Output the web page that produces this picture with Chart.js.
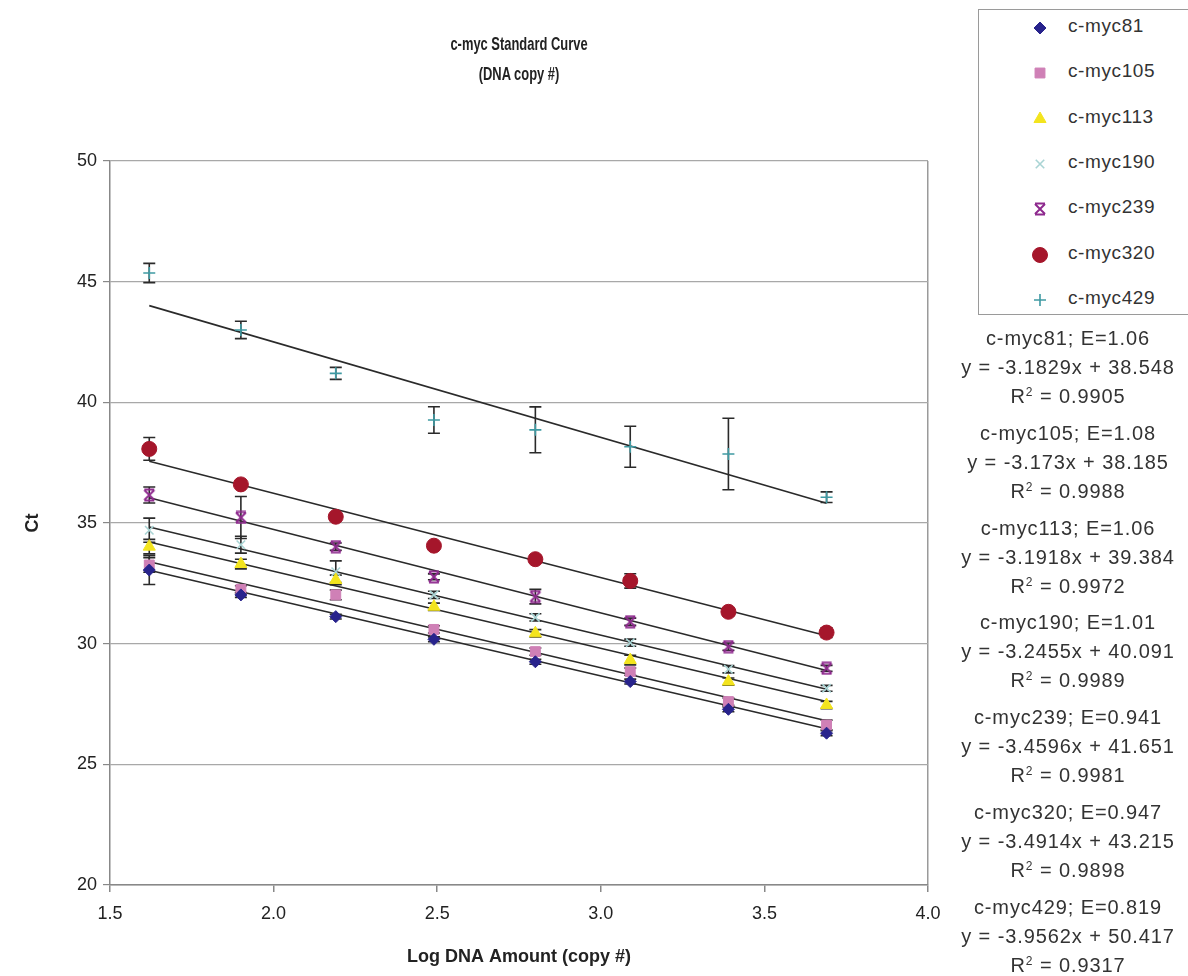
<!DOCTYPE html>
<html>
<head>
<meta charset="utf-8">
<script src="https://cdn.jsdelivr.net/npm/chart.js@4"></script>
<style>
body { margin: 0; background: #fff; }
#wrap { position: relative; width: 1188px; height: 976px; overflow: hidden; }
#chart { position: absolute; left: 0; top: 0; }
.title { position: absolute; left: 319px; width: 400px; text-align: center; line-height: 24px; font: bold 19px "Liberation Sans", Arial, sans-serif; color: #222; transform: scaleX(0.68); white-space: nowrap; }
#legend { position: absolute; left: 978px; top: 9px; width: 212px; height: 306px; border: 1.5px solid #9a9a9a; box-sizing: border-box; background: #fff; }
.leg-row { position: absolute; left: 0; width: 210px; height: 26px; }
.leg-row canvas { position: absolute; left: 48px; top: 0; }
.leg-row span { position: absolute; left: 89px; top: 0; line-height: 26px; font: 19px "Liberation Sans", Arial, sans-serif; letter-spacing: 0.6px; color: #333; white-space: nowrap; }
.eq { position: absolute; left: 928px; width: 280px; text-align: center; line-height: 22px; font: 20px "Liberation Sans", Arial, sans-serif; letter-spacing: 0.9px; color: #333; white-space: nowrap; }
.eq sup { font-size: 12px; vertical-align: 7px; line-height: 0; }
</style>
</head>
<body>
<div id="wrap">
<canvas id="chart" width="1188" height="976"></canvas>
<div class="title" style="top:33px">c-myc Standard Curve</div>
<div class="title" style="top:63px">(DNA copy #)</div>
<div id="legend"></div>
<div id="equations"></div>
</div>
<script>
// x positions (log DNA amount) shared by all series
var logAmount = [1.62, 1.90, 2.19, 2.49, 2.80, 3.09, 3.39, 3.69];

var names = ['c-myc81', 'c-myc105', 'c-myc113', 'c-myc190', 'c-myc239', 'c-myc320', 'c-myc429'];

// mean Ct per series
var ct81  = [33.05, 32.02, 31.12, 30.18, 29.25, 28.43, 27.28, 26.29];
var ct105 = [33.26, 32.25, 32.02, 30.59, 29.67, 28.84, 27.60, 26.63];
var ct113 = [34.02, 33.30, 32.64, 31.53, 30.43, 29.32, 28.43, 27.46];
var ct190 = [34.70, 34.10, 32.98, 32.02, 31.09, 30.04, 28.94, 28.15];
var ct239 = [36.16, 35.23, 34.02, 32.77, 31.95, 30.91, 29.88, 28.98];
var ct320 = [38.07, 36.60, 35.26, 34.06, 33.50, 32.60, 31.32, 30.46];
var ct429 = [45.36, 43.00, 41.20, 39.27, 38.86, 38.16, 37.86, 36.07];

// error bar half-lengths
var err81  = [0.60, 0.10, 0.10, 0.10, 0.10, 0.10, 0.10, 0.10];
var err105 = [0.30, 0.15, 0.20, 0.15, 0.15, 0.15, 0.15, 0.20];
var err113 = [0.30, 0.20, 0.20, 0.15, 0.15, 0.20, 0.15, 0.15];
var err190 = [0.50, 0.35, 0.45, 0.15, 0.15, 0.15, 0.15, 0.12];
var err239 = [0.33, 0.87, 0.15, 0.12, 0.30, 0.15, 0.15, 0.12];
var err320 = [0.47, 0.10, 0.12, 0.12, 0.15, 0.30, 0.15, 0.20];
var err429 = [0.40, 0.36, 0.25, 0.55, 0.95, 0.85, 1.48, 0.22];

// trendline fits as printed on the chart
var slopes     = [-3.1829, -3.173, -3.1918, -3.2455, -3.4596, -3.4914, -3.9562];
var intercepts = [38.548, 38.185, 39.384, 40.091, 41.651, 43.215, 50.417];
var efficiency = ['1.06', '1.08', '1.06', '1.01', '0.941', '0.947', '0.819'];
var rSquared   = ['0.9905', '0.9988', '0.9972', '0.9989', '0.9981', '0.9898', '0.9317'];

var xTicks = [1.5, 2.0, 2.5, 3.0, 3.5, 4.0];
var yTicks = [20, 25, 30, 35, 40, 45, 50];

var ctSeries = [ct81, ct105, ct113, ct190, ct239, ct320, ct429];
var errSeries = [err81, err105, err113, err190, err239, err320, err429];

//custom marker: x with horizontal bars (Excel "star")
function makeBarX(color) {
	var c = document.createElement('canvas');
	c.width = 14; c.height = 14;
	var g = c.getContext('2d');
	g.strokeStyle = color;
	g.lineWidth = 2;
	g.beginPath();
	g.moveTo(2, 2); g.lineTo(12, 12);
	g.moveTo(12, 2); g.lineTo(2, 12);
	g.moveTo(2, 1.5); g.lineTo(12, 1.5);
	g.moveTo(2, 12.5); g.lineTo(12, 12.5);
	g.stroke();
	return c;
}

var markers = [
	{ style: 'rectRot', color: '#28238c', radius: 6, border: 1 },
	{ style: 'rect', color: '#cf80b6', radius: 7, border: 1 },
	{ style: 'triangle', color: '#f3e41e', radius: 7, border: 1 },
	{ style: 'crossRot', color: '#a9d4d4', radius: 6, border: 1.6 },
	{ style: makeBarX('#8e2a8e'), color: '#8e2a8e', radius: 7, border: 1 },
	{ style: 'circle', color: '#a5162b', radius: 7.5, border: 1 },
	{ style: 'cross', color: '#3f9aa3', radius: 6, border: 1.6 }
];

var datasets = [];
for (var s = 0; s < names.length; s++) {
	var pts = [];
	for (var i = 0; i < logAmount.length; i++) {
		pts.push({ x: logAmount[i], y: ctSeries[s][i] });
	}
	datasets.push({
		type: 'scatter',
		label: names[s],
		data: pts,
		errors: errSeries[s],
		pointStyle: markers[s].style,
		pointRadius: markers[s].radius,
		pointHoverRadius: markers[s].radius,
		backgroundColor: markers[s].color,
		borderColor: markers[s].color,
		borderWidth: markers[s].border,
		order: 1
	});
}
//trend lines over the data range
var xMin = logAmount[0], xMax = logAmount[logAmount.length - 1];
for (s = 0; s < names.length; s++) {
	datasets.push({
		type: 'line',
		label: names[s] + ' fit',
		data: [
			{ x: xMin, y: slopes[s] * xMin + intercepts[s] },
			{ x: xMax, y: slopes[s] * xMax + intercepts[s] }
		],
		borderColor: '#2a2a2a',
		borderWidth: 1.6,
		pointRadius: 0,
		fill: false,
		order: 2
	});
}

var errorBarPlugin = {
	id: 'errorBars',
	beforeDatasetsDraw: function(chart) {
		var ctx = chart.ctx, xs = chart.scales.x, ys = chart.scales.y;
		ctx.save();
		ctx.strokeStyle = '#2a2a2a';
		ctx.lineWidth = 1.6;
		chart.data.datasets.forEach(function(ds) {
			if (!ds.errors) {
				return;
			}
			ds.data.forEach(function(p, i) {
				var e = ds.errors[i];
				var px = xs.getPixelForValue(p.x);
				var top = ys.getPixelForValue(p.y + e);
				var bot = ys.getPixelForValue(p.y - e);
				ctx.beginPath();
				ctx.moveTo(px, top); ctx.lineTo(px, bot);
				ctx.moveTo(px - 6, top); ctx.lineTo(px + 6, top);
				ctx.moveTo(px - 6, bot); ctx.lineTo(px + 6, bot);
				ctx.stroke();
			});
		});
		ctx.restore();
	}
};

var sans = '"Liberation Sans", Arial, sans-serif';

var chart = new Chart(document.getElementById('chart'), {
	data: { datasets: datasets },
	plugins: [errorBarPlugin],
	options: {
		responsive: false,
		animation: false,
		layout: { padding: { left: 0, right: 260, top: 161, bottom: 0 } },
		plugins: {
			legend: { display: false },
			tooltip: { enabled: false },
			title: { display: false }
		},
		scales: {
			x: {
				type: 'linear',
				min: 1.5,
				max: 4.0,
				afterBuildTicks: function(axis) {
					axis.ticks = xTicks.map(function(v) { return { value: v }; });
				},
				afterFit: function(axis) { axis.height = 91; },
				ticks: {
					color: '#222',
					font: { family: sans, size: 18 },
					padding: 11,
					maxRotation: 0,
					callback: function(v) { return v.toFixed(1); }
				},
				grid: {
					color: function(c) { return (c.tick && c.tick.value === 4) ? '#9a9a9a' : 'rgba(0,0,0,0)'; },
					tickColor: '#888',
					tickLength: 7,
					lineWidth: 1.5
				},
				border: { display: true, color: '#888', width: 1.5 },
				title: {
					display: true,
					text: 'Log DNA Amount (copy #)',
					color: '#222',
					font: { family: sans, size: 18, weight: 'bold' },
					padding: { top: 0, bottom: 8 }
				}
			},
			y: {
				type: 'linear',
				min: 20,
				max: 50,
				afterBuildTicks: function(axis) {
					axis.ticks = yTicks.map(function(v) { return { value: v }; });
				},
				afterFit: function(axis) { axis.width = 110; },
				ticks: {
					color: '#222',
					font: { family: sans, size: 18 },
					padding: 6
				},
				grid: {
					color: '#a8a8a8',
					tickColor: '#888',
					tickLength: 7,
					lineWidth: 1.2
				},
				border: { display: true, color: '#888', width: 1.5 },
				title: {
					display: true,
					text: 'Ct',
					color: '#222',
					font: { family: sans, size: 18, weight: 'bold' },
					padding: { top: 22, bottom: 0 }
				}
			}
		}
	}
});

//legend box
function drawMarker(canvas, m) {
	var g = canvas.getContext('2d');
	var cx = canvas.width / 2, cy = canvas.height / 2;
	if (typeof m.style !== 'string') {
		g.drawImage(m.style, cx - m.style.width / 2, cy - m.style.height / 2);
		return;
	}
	g.fillStyle = m.color;
	g.strokeStyle = m.color;
	g.lineWidth = m.border;
	Chart.helpers.drawPoint(g, { pointStyle: m.style, radius: m.radius, borderWidth: m.border, rotation: 0 }, cx, cy);
}

var legend = document.getElementById('legend');
for (s = 0; s < names.length; s++) {
	var row = document.createElement('div');
	row.className = 'leg-row';
	row.style.top = (5 + 45.3 * s) + 'px';
	var cv = document.createElement('canvas');
	cv.width = 26; cv.height = 26;
	row.appendChild(cv);
	var label = document.createElement('span');
	label.textContent = names[s];
	row.appendChild(label);
	legend.appendChild(row);
	drawMarker(cv, markers[s]);
}

//trendline labels
var eqBox = document.getElementById('equations');
for (s = 0; s < names.length; s++) {
	var lines = [
		names[s] + '; E=' + efficiency[s],
		'y = ' + slopes[s] + 'x + ' + intercepts[s].toFixed(3),
		'R<sup>2</sup> = ' + rSquared[s]
	];
	for (var j = 0; j < lines.length; j++) {
		var d = document.createElement('div');
		d.className = 'eq';
		d.style.top = (338 + 94.8 * s + 29 * j - 11) + 'px';
		d.innerHTML = lines[j];
		eqBox.appendChild(d);
	}
}
</script>
</body>
</html>
